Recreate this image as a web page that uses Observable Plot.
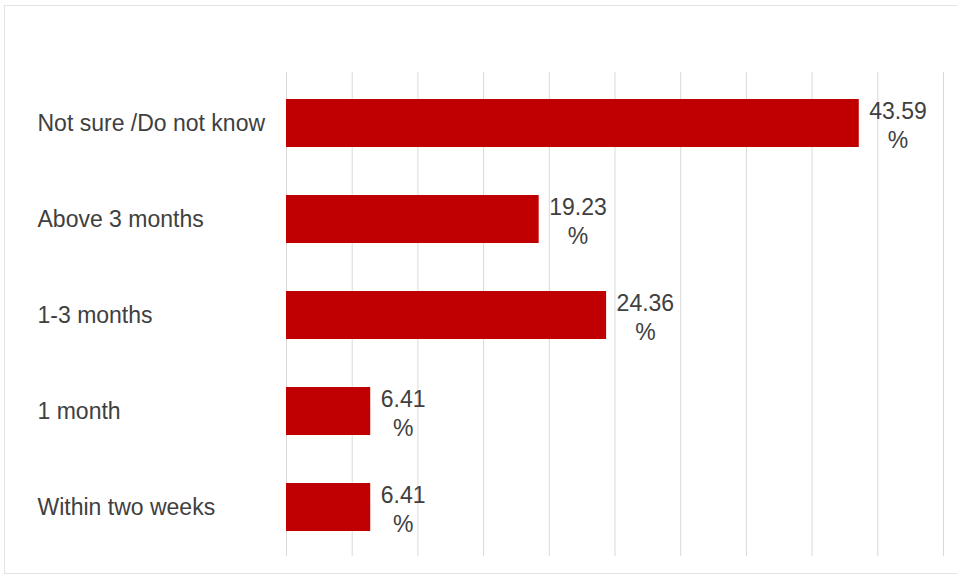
<!DOCTYPE html>
<html>
<head>
<meta charset="utf-8">
<script src="https://cdn.jsdelivr.net/npm/d3@7"></script>
<script src="https://cdn.jsdelivr.net/npm/@observablehq/plot@0.6"></script>
<style>
  html, body { margin: 0; padding: 0; background: #fff; }
  #wrap { position: relative; width: 957px; height: 578px; overflow: hidden; }
  #border { position: absolute; left: 4px; top: 5px; width: 980px; height: 569px; border: 1px solid #e3e3e3; box-sizing: border-box; pointer-events: none; }
  #chart { position: absolute; left: 0; top: 0; }
</style>
</head>
<body>
<div id="wrap"><div id="chart"></div><div id="border"></div></div>
<script>
const categories = ["Not sure /Do not know", "Above 3 months", "1-3 months", "1 month", "Within two weeks"];
const values = [43.59, 19.23, 24.36, 6.41, 6.41];
const xTicks = [0, 5, 10, 15, 20, 25, 30, 35, 40, 45, 50];

const data = categories.map((c, i) => ({category: c, value: values[i], label: values[i].toFixed(2)}));

const FONT = "23px 'Liberation Sans', Arial, sans-serif";
const ctx = document.createElement("canvas").getContext("2d");
ctx.font = FONT;
const measure = s => ctx.measureText(s).width;

const valueLabels = data.map(d => Plot.text([d], {
  x: "value",
  y: "category",
  text: d => d.label + "\n%",
  textAnchor: "middle",
  lineAnchor: "middle",
  lineHeight: 1.26,
  dx: 10 + measure(d.label) / 2,
  dy: 1,
  fill: "#404040",
  fontSize: 23
}));

const chart = Plot.plot({
  width: 957,
  height: 578,
  marginLeft: 286,
  marginRight: 14,
  marginTop: 72,
  marginBottom: 22,
  style: {fontFamily: "'Liberation Sans', Arial, sans-serif", background: "transparent"},
  x: {domain: [0, 50], axis: null},
  y: {domain: categories, range: [74, 556], paddingInner: 0.5, paddingOuter: 0.25, axis: null},
  marks: [
    Plot.gridX(xTicks, {stroke: "#d9d9d9", strokeOpacity: 1, strokeWidth: 1}),
    Plot.barX(data, {x: "value", y: "category", fill: "#c00000"}),
    Plot.text(data, {
      y: "category",
      text: "category",
      frameAnchor: "left",
      textAnchor: "start",
      dx: 37 - 286,
      fill: "#404040",
      fontSize: 23
    }),
    ...valueLabels
  ]
});
document.getElementById("chart").appendChild(chart);
</script>
</body>
</html>
